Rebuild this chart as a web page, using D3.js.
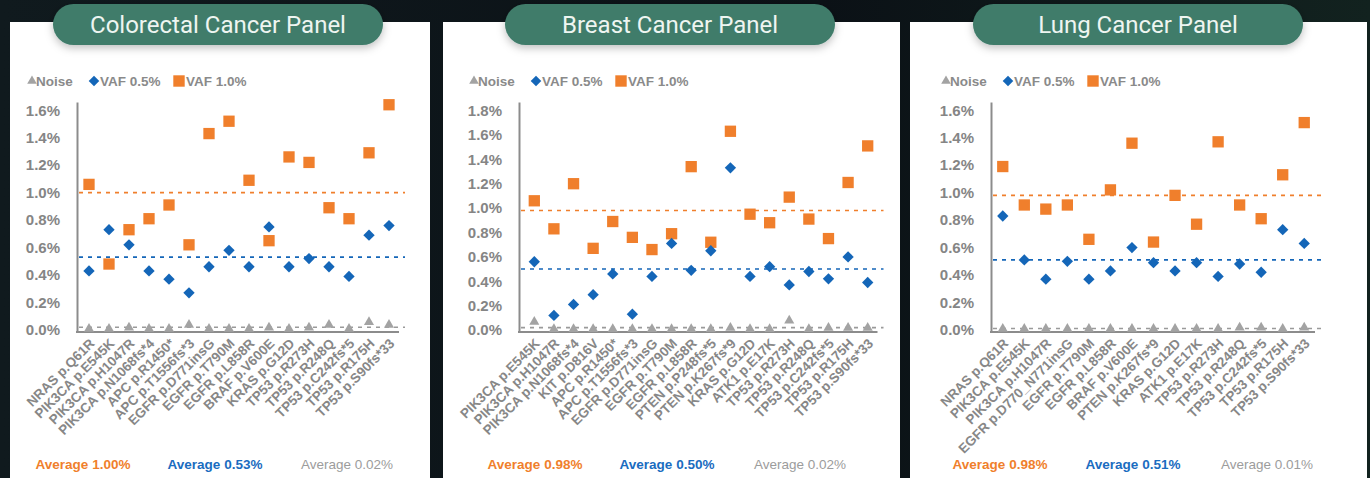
<!DOCTYPE html>
<html>
<head>
<meta charset="utf-8">
<script src="https://cdn.jsdelivr.net/npm/d3@7"></script>
<style>
  html, body { margin: 0; padding: 0; background: #0c1217; }
  svg { display: block; font-family: "Liberation Sans", Arial, sans-serif; }
</style>
</head>
<body>
<div id="chart"></div>
<script>
// ---- data (VAF in %) ----
const crcGenes = ["NRAS p.Q61R", "PIK3CA p.E545K", "PIK3CA p.H1047R", "PIK3CA p.N1068fs*4", "APC p.R1450*", "APC p.T1556fs*3",
  "EGFR p.D771insG", "EGFR p.T790M", "EGFR p.L858R", "BRAF p.V600E", "KRAS p.G12D", "TP53 p.R273H",
  "TP53 p.R248Q", "TP53 p.C242fs*5", "TP53 p.R175H", "TP53 p.S90fs*33"];
const crcVaf10 = [1.06, 0.48, 0.73, 0.81, 0.91, 0.62, 1.43, 1.52, 1.09, 0.65, 1.26, 1.22, 0.89, 0.81, 1.29, 1.64];
const crcVaf05 = [0.43, 0.73, 0.62, 0.43, 0.37, 0.27, 0.46, 0.58, 0.46, 0.75, 0.46, 0.52, 0.46, 0.39, 0.69, 0.76];
const crcNoise = [0.00, 0.00, 0.01, 0.00, 0.00, 0.03, 0.00, 0.00, 0.00, 0.01, 0.00, 0.01, 0.03, 0.00, 0.05, 0.03];
const crcAvg = [1.00, 0.53, 0.02];

const brcGenes = ["PIK3CA p.E545K", "PIK3CA p.H1047R", "PIK3CA p.N1068fs*4", "KIT p.D816V", "APC p.R1450*", "APC p.T1556fs*3",
  "EGFR p.D771insG", "EGFR p.T790M", "EGFR p.L858R", "PTEN p.P248fs*5", "PTEN p.K267fs*9", "KRAS p.G12D",
  "ATK1 p.E17K", "TP53 p.R273H", "TP53 p.R248Q", "TP53 p.C242fs*5", "TP53 p.R175H", "TP53 p.S90fs*33"];
const brcVaf10 = [1.06, 0.83, 1.20, 0.67, 0.89, 0.76, 0.66, 0.79, 1.34, 0.72, 1.63, 0.95, 0.88, 1.09, 0.91, 0.75, 1.21, 1.51];
const brcVaf05 = [0.56, 0.12, 0.21, 0.29, 0.46, 0.13, 0.44, 0.71, 0.49, 0.65, 1.33, 0.44, 0.52, 0.37, 0.48, 0.42, 0.60, 0.39];
const brcNoise = [0.06, 0.00, 0.00, 0.00, 0.00, 0.00, 0.00, 0.00, 0.00, 0.00, 0.01, 0.00, 0.00, 0.07, 0.00, 0.01, 0.01, 0.01];
const brcAvg = [0.98, 0.50, 0.02];

const lungGenes = ["NRAS p.Q61R", "PIK3CA p.E545K", "PIK3CA p.H1047R", "EGFR p.D770_N771insG", "EGFR p.T790M",
  "EGFR p.L858R", "BRAF p.V600E", "PTEN p.K267fs*9", "KRAS p.G12D", "ATK1 p.E17K", "TP53 p.R273H",
  "TP53 p.R248Q", "TP53 p.C242fs*5", "TP53 p.R175H", "TP53 p.S90fs*33"];
const lungVaf10 = [1.19, 0.91, 0.88, 0.91, 0.66, 1.02, 1.36, 0.64, 0.98, 0.77, 1.37, 0.91, 0.81, 1.13, 1.51];
const lungVaf05 = [0.83, 0.51, 0.37, 0.50, 0.37, 0.43, 0.60, 0.49, 0.43, 0.49, 0.39, 0.48, 0.42, 0.73, 0.63];
const lungNoise = [0.00, 0.00, 0.00, 0.00, 0.00, 0.00, 0.00, 0.00, 0.00, 0.00, 0.00, 0.01, 0.01, 0.00, 0.01];
const lungAvg = [0.98, 0.51, 0.01];

const ticks16 = [0, 0.2, 0.4, 0.6, 0.8, 1.0, 1.2, 1.4, 1.6];
const ticks18 = [0, 0.2, 0.4, 0.6, 0.8, 1.0, 1.2, 1.4, 1.6, 1.8];

const seriesNames = ["Noise", "VAF 0.5%", "VAF 1.0%"];

// ---- layout ----
const W = 1370, H = 478;
const orange = "#f07f2c", blue = "#1466b8", grey = "#a3a3a3";
const plotTop = 102, plotBottom = 332;

const panels = [
  { title: "Colorectal Cancer Panel", genes: crcGenes, vaf10: crcVaf10, vaf05: crcVaf05, noise: crcNoise, avg: crcAvg,
    ticks: ticks16, yDomain: [-0.015, 1.66], box: [10, 430], axisX: 77, band: [79, 399], pillX: 218, avgX: [83, 215, 347] },
  { title: "Breast Cancer Panel", genes: brcGenes, vaf10: brcVaf10, vaf05: brcVaf05, noise: brcNoise, avg: brcAvg,
    ticks: ticks18, yDomain: [-0.016, 1.87], box: [443, 900], axisX: 519, band: [524.5, 877.5], pillX: 670, avgX: [535, 667, 800] },
  { title: "Lung Cancer Panel", genes: lungGenes, vaf10: lungVaf10, vaf05: lungVaf05, noise: lungNoise, avg: lungAvg,
    ticks: ticks16, yDomain: [-0.015, 1.66], box: [910, 1367], axisX: 991, band: [992, 1315], pillX: 1138, avgX: [1000, 1133, 1267] }
];

const svg = d3.select("#chart").append("svg")
    .attr("width", W)
    .attr("height", H);

const defs = svg.append("defs");
const shadow = defs.append("filter").attr("id", "pillShadow")
    .attr("x", "-10%").attr("y", "-30%").attr("width", "120%").attr("height", "180%");
shadow.append("feDropShadow")
    .attr("dx", 0).attr("dy", 3).attr("stdDeviation", 4)
    .attr("flood-color", "#000").attr("flood-opacity", 0.25);

const bgGrad = defs.append("linearGradient").attr("id", "bgGrad")
    .attr("x1", 0).attr("x2", 1).attr("y1", 0).attr("y2", 0);
bgGrad.append("stop").attr("offset", "0%").attr("stop-color", "#101a1e");
bgGrad.append("stop").attr("offset", "60%").attr("stop-color", "#0b1116");
bgGrad.append("stop").attr("offset", "100%").attr("stop-color", "#12221f");

svg.append("rect")
    .attr("width", W)
    .attr("height", H)
    .attr("fill", "url(#bgGrad)");

const squareSym = d3.symbol(d3.symbolSquare, 128)();
const diamondSym = d3.symbol(d3.symbolSquare, 64)();
const triSym = d3.symbol(d3.symbolTriangle, 44)();

panels.forEach(p => {
    const g = svg.append("g");

    g.append("rect")
        .attr("x", p.box[0])
        .attr("y", 22)
        .attr("width", p.box[1] - p.box[0])
        .attr("height", H - 22)
        .attr("fill", "#ffffff");

    // title pill
    g.append("rect")
        .attr("x", p.pillX - 165)
        .attr("y", 4)
        .attr("width", 330)
        .attr("height", 41)
        .attr("rx", 20.5)
        .attr("fill", "#3f7c6a")
        .attr("filter", "url(#pillShadow)");

    g.append("text")
        .attr("x", p.pillX)
        .attr("y", 33)
        .attr("text-anchor", "middle")
        .style("font-family", "Roboto, sans-serif")
        .style("font-size", "24px")
        .style("fill", "#eef5f1")
        .text(p.title);

    const x = d3.scaleBand()
        .domain(p.genes)
        .range(p.band);

    const y = d3.scaleLinear()
        .domain(p.yDomain)
        .range([plotBottom, plotTop]);

    const cx = d => x(d) + x.bandwidth() / 2;

    // y axis
    const yAxisGroup = g.append("g")
        .attr("transform", `translate(${p.axisX},0)`)
        .call(d3.axisLeft(y).tickValues(p.ticks).tickFormat(d => d.toFixed(1) + "%").tickSize(0).tickSizeOuter(0).tickPadding(17));

    yAxisGroup.select(".domain").attr("stroke", "#8c8c8c").attr("stroke-width", 2);
    yAxisGroup.selectAll("text")
        .style("font-size", "15px")
        .style("font-weight", "700")
        .style("font-family", "'Liberation Sans', Arial, sans-serif")
        .style("fill", "#858585");

    // x axis
    const xAxisGroup = g.append("g")
        .attr("transform", `translate(0,${plotBottom})`)
        .call(d3.axisBottom(x).tickSize(0).tickSizeOuter(0));

    xAxisGroup.select(".domain").remove();
    xAxisGroup.append("line")
        .attr("x1", p.axisX - 1)
        .attr("x2", p.band[1])
        .attr("stroke", "#8c8c8c")
        .attr("stroke-width", 2);

    xAxisGroup.selectAll(".tick text")
        .attr("x", 0)
        .attr("y", 0)
        .attr("dy", "0.35em")
        .attr("transform", "translate(3,9) rotate(-45)")
        .style("text-anchor", "end")
        .style("font-size", "13.5px")
        .style("font-weight", "700")
        .style("font-family", "'Liberation Sans', Arial, sans-serif")
        .style("fill", "#878787");

    // average reference lines
    const lineColours = [orange, blue, "#9a9a9a"];
    p.avg.forEach((a, i) => {
        g.append("line")
            .attr("x1", p.axisX + 2)
            .attr("x2", p.band[1] + 6)
            .attr("y1", y(a))
            .attr("y2", y(a))
            .attr("stroke", lineColours[i])
            .attr("stroke-width", 1.6)
            .attr("stroke-dasharray", "4,5");
    });

    // markers
    g.selectAll(".vaf10")
        .data(p.genes)
        .join("path")
            .attr("class", "vaf10")
            .attr("d", squareSym)
            .attr("transform", (d, i) => `translate(${cx(d)},${y(p.vaf10[i])})`)
            .attr("fill", orange);

    g.selectAll(".vaf05")
        .data(p.genes)
        .join("path")
            .attr("class", "vaf05")
            .attr("d", diamondSym)
            .attr("transform", (d, i) => `translate(${cx(d)},${y(p.vaf05[i])}) rotate(45)`)
            .attr("fill", blue);

    g.selectAll(".noise")
        .data(p.genes)
        .join("path")
            .attr("class", "noise")
            .attr("d", triSym)
            .attr("transform", (d, i) => `translate(${cx(d)},${y(p.noise[i]) - 1})`)
            .attr("fill", grey);

    // legend
    const legend = g.append("g").attr("transform", `translate(${p.axisX},81)`);
    const legendItems = [
        { sym: d3.symbol(d3.symbolTriangle, 40)(), colour: grey, rot: 0, dx: -45, tx: -41 },
        { sym: d3.symbol(d3.symbolSquare, 56)(), colour: blue, rot: 45, dx: 17, tx: 23 },
        { sym: d3.symbol(d3.symbolSquare, 130)(), colour: orange, rot: 0, dx: 102, tx: 109 }
    ];
    legendItems.forEach((it, i) => {
        legend.append("path")
            .attr("d", it.sym)
            .attr("transform", `translate(${it.dx},0) rotate(${it.rot})`)
            .attr("fill", it.colour);
        legend.append("text")
            .attr("x", it.tx)
            .attr("dy", "0.35em")
            .style("font-size", "13.5px")
            .style("font-weight", "700")
            .style("fill", "#8a8a8a")
            .text(seriesNames[i]);
    });

    // averages under the chart
    const avgColours = [orange, "#1a6cc0", "#9c9c9c"];
    const avgWeights = ["700", "700", "400"];
    p.avg.forEach((a, i) => {
        g.append("text")
            .attr("x", p.avgX[i])
            .attr("y", 469)
            .attr("text-anchor", "middle")
            .style("font-size", "13.5px")
            .style("font-weight", avgWeights[i])
            .style("fill", avgColours[i])
            .text(`Average ${a.toFixed(2)}%`);
    });
});
</script>
</body>
</html>
